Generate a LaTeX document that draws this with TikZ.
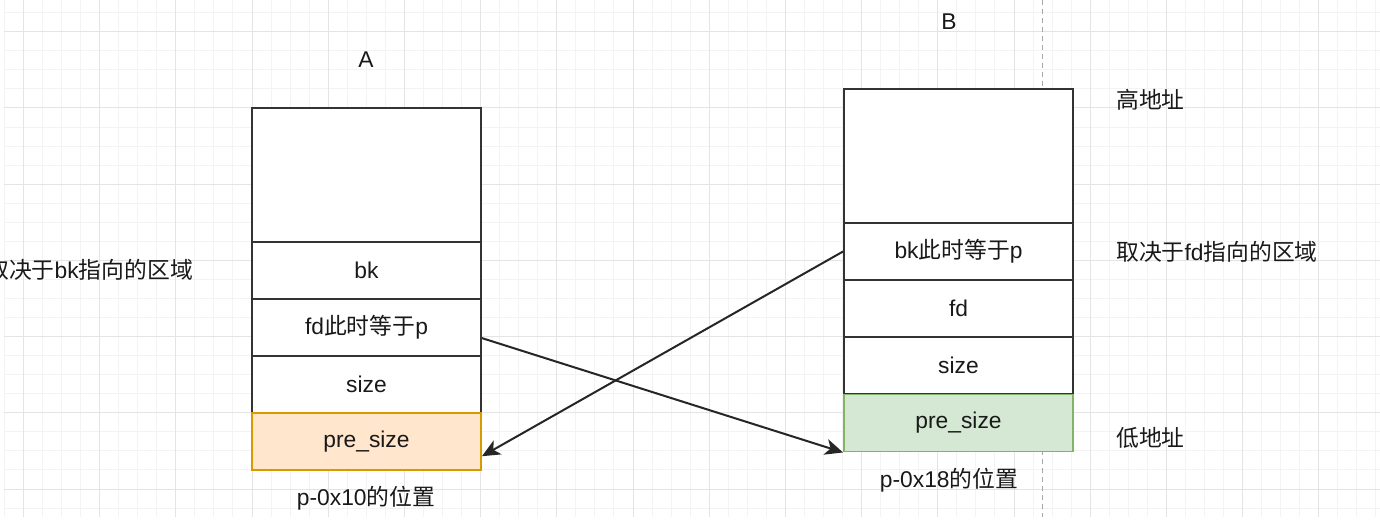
\documentclass[tikz,border=0pt]{standalone}
\usepackage{fontspec}
\setmainfont{Liberation Sans}
\newfontfamily\cjk{Noto Sans CJK SC}
\usetikzlibrary{arrows.meta,calc}
\definecolor{strokec}{HTML}{333333}
\definecolor{orangefill}{HTML}{FFE6CC}
\definecolor{orangeline}{HTML}{D79B00}
\definecolor{greenfill}{HTML}{D5E8D4}
\definecolor{greenline}{HTML}{82B366}
\definecolor{minorgrid}{HTML}{F3F3F3}
\definecolor{majorgrid}{HTML}{E4E4E4}
\begin{document}
\begin{tikzpicture}[x=1pt,y=-1pt,
  font=\fontsize{22.8}{27}\selectfont,
  row/.style={draw=strokec, line width=1.9pt, fill=white, minimum width=229pt, minimum height=57pt, inner sep=0pt, text=black!90},
  toprow/.style={row, minimum height=134pt},
  lbl/.style={inner sep=0pt, text=black!90},
  conn/.style={draw=black!85, line width=2pt, -{Stealth[length=18pt,width=16pt,inset=5pt]}}]
\clip (0,0) rectangle (1380,524);
\useasboundingbox (0,0) rectangle (1380,524);
\fill[white] (0,0) rectangle (1380,524);
% grid
\foreach \i in {0,...,72} {\draw[minorgrid, line width=1pt] ({4.35+19.05*\i},0) -- ({4.35+19.05*\i},517);}
\foreach \j in {0,...,26} {\draw[minorgrid, line width=1pt] (4.35,{12.75+19.05*\j}) -- (1380,{12.75+19.05*\j});}
\foreach \i in {0,...,18} {\draw[majorgrid, line width=1pt] ({23.4+76.2*\i},0) -- ({23.4+76.2*\i},517);}
\foreach \j in {0,...,6} {\draw[majorgrid, line width=1pt] (4.35,{31.8+76.2*\j}) -- (1380,{31.8+76.2*\j});}
% dashed divider
\draw[gray!70, line width=1pt, dash pattern=on 5pt off 4pt] (1042,0) -- (1042,517);
% box A
\node[toprow] (topA) at (366.5,175) {};
\node[row] (bkA) at (366.5,270.5) {bk};
\node[row] (fdA) at (366.5,327.5) {fd{\cjk 此时等于}p};
\node[row] (sizeA) at (366.5,384.5) {size};
\node[row, fill=orangefill, draw=orangeline] (preA) at (366.5,441.5) {pre\_size};
% box B
\node[toprow] (topB) at (958.5,156) {};
\node[row] (bkB) at (958.5,251.5) {bk{\cjk 此时等于}p};
\node[row] (fdB) at (958.5,308.5) {fd};
\node[row] (sizeB) at (958.5,365.5) {size};
\node[row, fill=greenfill, draw=greenline] (preB) at (958.5,423) {pre\_size};
% labels
\node[lbl] (labA) at (366,60) {A};
\node[lbl] (labB) at (949,22) {B};
\node[lbl] (posA) at (366,498) {p-0x10{\cjk 的位置}};
\node[lbl] (posB) at (949,480) {p-0x18{\cjk 的位置}};
\node[lbl, anchor=west] (high) at (1116,100) {\cjk 高地址};
\node[lbl, anchor=west] (fdarea) at (1116,252) {{\cjk 取决于}fd{\cjk 指向的区域}};
\node[lbl, anchor=west] (low) at (1116,438) {\cjk 低地址};
\node[lbl, anchor=east] (bkarea) at (193,270) {{\cjk 取决于}bk{\cjk 指向的区域}};
% connectors
\draw[conn] ($(fdA.north east)!0.68!(fdA.south east)$) -- (preB.south west);
\draw[conn] (bkB.west) -- ($(preA.south east)!0.25!(preA.north east)$);
\end{tikzpicture}
\end{document}
